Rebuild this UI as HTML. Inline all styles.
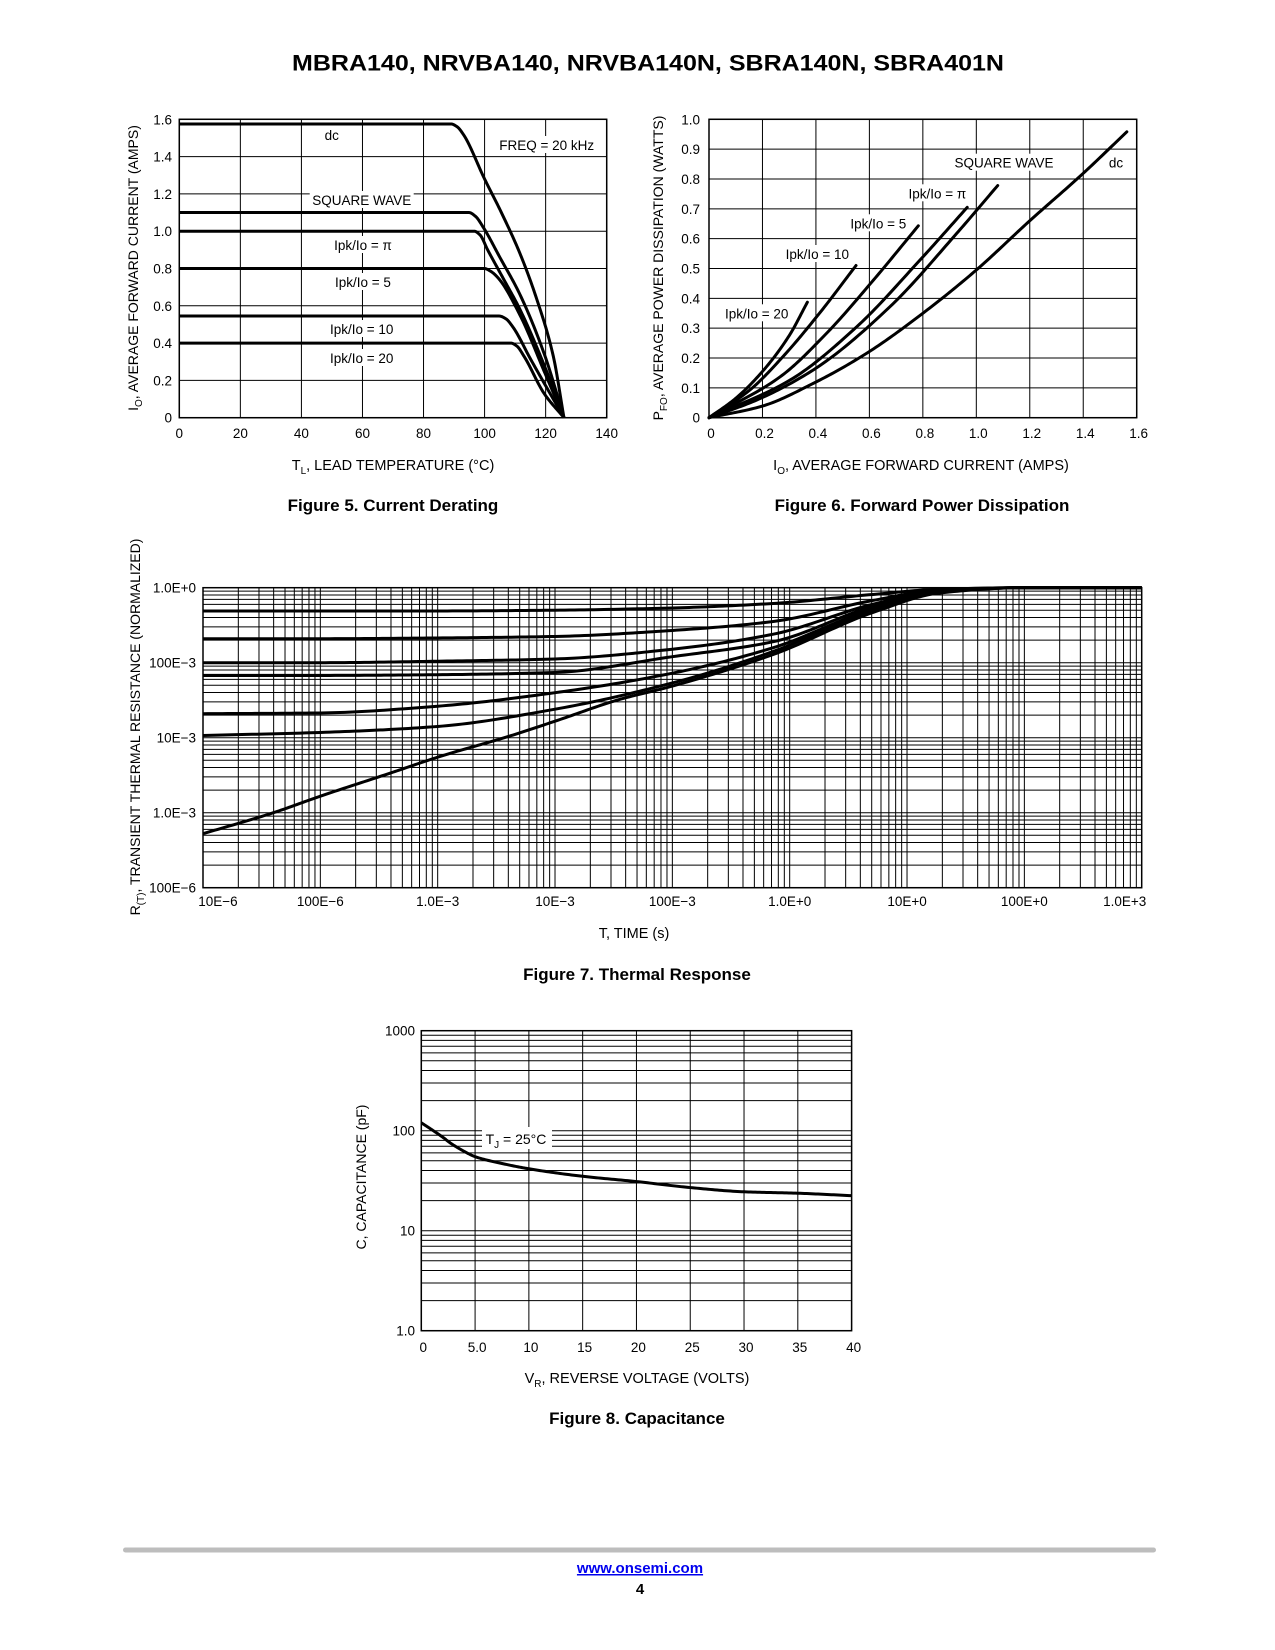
<!DOCTYPE html>
<html><head><meta charset="utf-8"><title>MBRA140 characteristics page 4</title>
<style>
html,body{margin:0;padding:0;background:#fff;}
svg{display:block;font-family:"Liberation Sans",Arial,sans-serif;}
</style></head>
<body>
<svg id="page" width="1275" height="1650" viewBox="0 0 1275 1650" xmlns="http://www.w3.org/2000/svg">
<rect width="1275" height="1650" fill="#fff"/>
<text x="648" y="70.5" text-anchor="middle" font-size="22" font-weight="bold" textLength="712" lengthAdjust="spacingAndGlyphs">MBRA140, NRVBA140, NRVBA140N, SBRA140N, SBRA401N</text>
<g id="fig5"></g>
<g id="fig6"></g>
<g id="fig7"></g>
<g id="fig8"></g>
<text x="393" y="511" text-anchor="middle" font-size="17" font-weight="bold">Figure 5. Current Derating</text>
<text x="922" y="511" text-anchor="middle" font-size="17" font-weight="bold">Figure 6. Forward Power Dissipation</text>
<text x="637" y="980" text-anchor="middle" font-size="17" font-weight="bold">Figure 7. Thermal Response</text>
<text x="637" y="1424" text-anchor="middle" font-size="17" font-weight="bold">Figure 8. Capacitance</text>
<rect x="123" y="1547.5" width="1033" height="5" rx="2.5" fill="#bdbdbd"/>
<a><text x="640" y="1573" text-anchor="middle" font-size="15" font-weight="bold" fill="#0000ee" text-decoration="underline">www.onsemi.com</text></a>
<text x="640" y="1594" text-anchor="middle" font-size="15" font-weight="bold">4</text>
</svg>
<script>
// ---------- Figure 5 data ----------
const f5XTicks = [0,20,40,60,80,100,120,140];
const f5YTicks = [0,0.2,0.4,0.6,0.8,1.0,1.2,1.4,1.6];
const f5YTickLabels = ["0","0.2","0.4","0.6","0.8","1.0","1.2","1.4","1.6"];
const f5DcT = [0,89,91,93,100,105.5,111.6,117,122.5,126];
const f5DcI = [1.575,1.575,1.56,1.52,1.28,1.1,0.88,0.64,0.33,0];
const f5SqT = [0,94.9,97,99.6,105,111.6,119.8,126];
const f5SqI = [1.1,1.1,1.08,1.02,0.86,0.66,0.33,0];
const f5PiT = [0,96.6,98.5,101,106,111.6,119.8,126];
const f5PiI = [1.0,1.0,0.98,0.9,0.75,0.58,0.27,0];
const f5P5T = [0,99.9,102,104.4,111.6,119.8,126];
const f5P5I = [0.8,0.8,0.785,0.75,0.55,0.238,0];
const f5P10T = [0,104.8,107,109.2,115.2,126];
const f5P10I = [0.545,0.545,0.53,0.488,0.31,0];
const f5P20T = [0,108.6,110.5,113,119.5,126];
const f5P20I = [0.4,0.4,0.385,0.327,0.13,0];

// ---------- Figure 6 data ----------
const f6XTicks = [0,0.2,0.4,0.6,0.8,1.0,1.2,1.4,1.6];
const f6XTickLabels = ["0","0.2","0.4","0.6","0.8","1.0","1.2","1.4","1.6"];
const f6YTicks = [0,0.1,0.2,0.3,0.4,0.5,0.6,0.7,0.8,0.9,1.0];
const f6YTickLabels = ["0","0.1","0.2","0.3","0.4","0.5","0.6","0.7","0.8","0.9","1.0"];
const f6P20I = [0,0.1,0.2,0.3,0.368];
const f6P20P = [0,0.065,0.155,0.275,0.387];
const f6P10I = [0,0.153,0.278,0.415,0.55];
const f6P10P = [0,0.093,0.206,0.352,0.51];
const f6P5I = [0,0.266,0.44,0.615,0.783];
const f6P5P = [0,0.137,0.283,0.461,0.643];
const f6PiI = [0,0.303,0.553,0.789,0.966];
const f6PiP = [0,0.126,0.305,0.528,0.705];
const f6SqI = [0,0.178,0.39,0.677,0.927,1.08];
const f6SqP = [0,0.059,0.16,0.372,0.618,0.778];
const f6DcI = [0,0.2,0.39,0.59,0.8,1.0,1.2,1.4,1.563];
const f6DcP = [0,0.039,0.115,0.216,0.35,0.495,0.66,0.819,0.958];

// ---------- Figure 7 data (log10 time, log10 R) ----------
const f7XTickLabels = ["10E\u22126","100E\u22126","1.0E\u22123","10E\u22123","100E\u22123","1.0E+0","10E+0","100E+0","1.0E+3"];
const f7YTickLabels = ["100E\u22126","1.0E\u22123","10E\u22123","100E\u22123","1.0E+0"];
const f7LogT = [-5,-4,-3,-2,-1,-0.14,0.71,1.28,2,3.1];
const f7D50 = [-0.31,-0.31,-0.31,-0.30,-0.27,-0.21,-0.09,-0.02,0,0];
const f7D20 = [-0.68,-0.68,-0.67,-0.65,-0.57,-0.45,-0.17,-0.03,0,0];
const f7D10 = [-1.0,-1.0,-0.98,-0.95,-0.82,-0.62,-0.22,-0.04,0,0];
const f7D05 = [-1.17,-1.17,-1.16,-1.13,-0.92,-0.72,-0.25,-0.05,0,0];
const f7D02 = [-1.68,-1.67,-1.58,-1.4,-1.14,-0.8,-0.28,-0.05,0,0];
const f7D01 = [-1.97,-1.93,-1.85,-1.62,-1.27,-0.85,-0.3,-0.06,0,0];
const f7SingleT = [-5,-4.4,-4,-3.4,-2.98,-2.39,-2,-1.45,-1.02,-0.14,0.71,1.28,2,3.1];
const f7SingleR = [-3.28,-3.0,-2.78,-2.47,-2.25,-1.98,-1.78,-1.49,-1.32,-0.89,-0.33,-0.07,0,0];

// ---------- Figure 8 data ----------
const f8XTicks = [0,5,10,15,20,25,30,35,40];
const f8XTickLabels = ["0","5.0","10","15","20","25","30","35","40"];
const f8YTickLabels = ["1.0","10","100","1000"];
const f8V = [0,1,2,2.73,4,5,7.5,10,15,20,25,30,35,40];
const f8C = [120,102,86,75,62,55,47,41.6,35,31,27,24.5,23.7,22.4];

const NS = "http://www.w3.org/2000/svg";
function mk(parent, tag, attrs, txt){
  const e = document.createElementNS(NS, tag);
  for (const k in attrs) e.setAttribute(k, attrs[k]);
  if (txt !== undefined) e.textContent = txt;
  parent.appendChild(e);
  return e;
}
function smoothD(xs, ys, fx, fy){
  const n = xs.length;
  const dx=[], m=[], s=[];
  for (let i=0;i<n-1;i++){ dx[i]=xs[i+1]-xs[i]; s[i]=(ys[i+1]-ys[i])/dx[i]; }
  m[0]=s[0]; m[n-1]=s[n-2];
  for (let i=1;i<n-1;i++){
    if (s[i-1]*s[i]<=0) m[i]=0;
    else { const w1=2*dx[i]+dx[i-1], w2=dx[i]+2*dx[i-1]; m[i]=(w1+w2)/(w1/s[i-1]+w2/s[i]); }
  }
  let d = "M"+fx(xs[0]).toFixed(2)+","+fy(ys[0]).toFixed(2);
  for (let i=0;i<n-1;i++){
    const N=24;
    for (let k=1;k<=N;k++){
      const t=k/N, h=dx[i];
      const h00=2*t*t*t-3*t*t+1, h10=t*t*t-2*t*t+t, h01=-2*t*t*t+3*t*t, h11=t*t*t-t*t;
      const yv=h00*ys[i]+h10*h*m[i]+h01*ys[i+1]+h11*h*m[i+1];
      const xv=xs[i]+t*h;
      d += "L"+fx(xv).toFixed(2)+","+fy(yv).toFixed(2);
    }
  }
  return d;
}
function label(g, x, y, txt, size, anchor){
  return mk(g, "text", {x:x, y:y, "font-size":size||13, "text-anchor":anchor||"middle"}, txt);
}
function boxLabel(g, cx, cy, txt, w){
  mk(g, "rect", {x:cx-w/2, y:cy-9, width:w, height:17, fill:"#fff"});
  return label(g, cx, cy+5, txt, 13.5);
}

// ===== Figure 5 =====
(function(){
  const g = document.getElementById("fig5");
  const L=179.3, R=606.7, T=119.3, B=417.7;
  const x = v => L + (v/140)*(R-L);
  const y = v => B - (v/1.6)*(B-T);
  f5XTicks.forEach(v=>{
    const ln = mk(g,"line",{x1:x(v),x2:x(v),y1:T,y2:B,stroke:"#000","stroke-width":1});
    
    
    const t = label(g, x(v), 438, String(v), 13.5);
    
    
  });
  f5YTicks.forEach((v,i)=>{
    const ln = mk(g,"line",{x1:L,x2:R,y1:y(v),y2:y(v),stroke:"#000","stroke-width":1});
    
    
    const t = label(g, 172, y(v)+5, f5YTickLabels[i], 13.5, "end");
    
    
  });
  const fr = mk(g,"rect",{x:L,y:T,width:R-L,height:B-T,fill:"none",stroke:"#000","stroke-width":1.5});
  
  
  const bx = boxLabel(g, 546.7, 145, "FREQ = 20 kHz", 106);
  
  
  const sq = boxLabel(g, 361.7, 200, "SQUARE WAVE", 104);
  
  
  const series = [[f5DcT,f5DcI,"dc-curve"],[f5SqT,f5SqI,"square-wave-curve"],[f5PiT,f5PiI,"ipk-pi-curve"],[f5P5T,f5P5I,"ipk-5-curve"],[f5P10T,f5P10I,"ipk-10-curve"],[f5P20T,f5P20I,"ipk-20-curve"]];
  series.forEach(s=>{
    const p = mk(g,"path",{d:smoothD(s[0],s[1],x,y),fill:"none",stroke:"#000","stroke-width":3,"stroke-linejoin":"round"});
    
    
  });
  const labs = [[331.7,135,"dc",20],[363,245,"Ipk/Io = \u03C0",70],[363,282,"Ipk/Io = 5",66],[361.7,329,"Ipk/Io = 10",74],[361.7,358,"Ipk/Io = 20",74]];
  labs.forEach(l=>{
    const t = boxLabel(g, l[0], l[1], l[2], l[3]);
    
    
  });
  const xt = mk(g,"text",{x:393,y:470,"font-size":14.5,"text-anchor":"middle"});
  
  
  xt.innerHTML = 'T<tspan font-size="10" dy="4">L</tspan><tspan dy="-4">, LEAD TEMPERATURE (°C)</tspan>';
  const yt = mk(g,"text",{x:0,y:0,"font-size":14,"text-anchor":"middle",transform:"translate(138,268) rotate(-90)"});
  
  
  yt.innerHTML = 'I<tspan font-size="10" dy="4">O</tspan><tspan dy="-4">, AVERAGE FORWARD CURRENT (AMPS)</tspan>';
})();

// ===== Figure 6 =====
(function(){
  const g = document.getElementById("fig6");
  const L=709, R=1136.7, T=119.3, B=417.7;
  const x = v => L + (v/1.6)*(R-L);
  const y = v => B - (v/1.0)*(B-T);
  f6XTicks.forEach((v,i)=>{
    const ln = mk(g,"line",{x1:x(v),x2:x(v),y1:T,y2:B,stroke:"#000","stroke-width":1});
    
    
    const t = label(g, x(v)+2, 438, f6XTickLabels[i], 13.5);
    
    
  });
  f6YTicks.forEach((v,i)=>{
    const ln = mk(g,"line",{x1:L,x2:R,y1:y(v),y2:y(v),stroke:"#000","stroke-width":1});
    
    
    const t = label(g, 700, y(v)+5, f6YTickLabels[i], 13.5, "end");
    
    
  });
  const fr = mk(g,"rect",{x:L,y:T,width:R-L,height:B-T,fill:"none",stroke:"#000","stroke-width":1.5});
  
  
  const labs = [[1004,162.7,"SQUARE WAVE",104],[1116,162.7,"dc",22],[937.3,193.3,"Ipk/Io = \u03C0",70],[878.3,223.3,"Ipk/Io = 5",66],[817.3,254,"Ipk/Io = 10",74],[756.7,313.3,"Ipk/Io = 20",74]];
  labs.forEach(l=>{
    const t = boxLabel(g, l[0], l[1], l[2], l[3]);
    
    
  });
  const series = [[f6P20I,f6P20P,"ipk-20-curve"],[f6P10I,f6P10P,"ipk-10-curve"],[f6P5I,f6P5P,"ipk-5-curve"],[f6PiI,f6PiP,"ipk-pi-curve"],[f6SqI,f6SqP,"square-wave-curve"],[f6DcI,f6DcP,"dc-curve"]];
  series.forEach(s=>{
    const p = mk(g,"path",{d:smoothD(s[0],s[1],x,y),fill:"none",stroke:"#000","stroke-width":3,"stroke-linecap":"round","stroke-linejoin":"round"});
    
    
  });
  const xt = mk(g,"text",{x:921,y:470,"font-size":14.5,"text-anchor":"middle"});
  
  
  xt.innerHTML = 'I<tspan font-size="10" dy="4">O</tspan><tspan dy="-4">, AVERAGE FORWARD CURRENT (AMPS)</tspan>';
  const yt = mk(g,"text",{x:0,y:0,"font-size":14,"text-anchor":"middle",transform:"translate(663,268) rotate(-90)"});
  
  
  yt.innerHTML = 'P<tspan font-size="10" dy="4">FO</tspan><tspan dy="-4">, AVERAGE POWER DISSIPATION (WATTS)</tspan>';
})();

// ===== Figure 7 =====
(function(){
  const g = document.getElementById("fig7");
  const L=203, R=1141.7, T=587.7, B=887.7;
  const x = lt => L + (lt+5)/8*(R-L);
  const y = lr => T - lr/4*(B-T);
  for (let dec=-5; dec<3; dec++){
    for (let m=1; m<10; m++){
      const lt = dec + Math.log10(m);
      const ln = mk(g,"line",{x1:x(lt),x2:x(lt),y1:T,y2:B,stroke:"#000","stroke-width":1});
      
      
    }
  }
  for (let dec=-4; dec<0; dec++){
    for (let m=1; m<10; m++){
      const lr = dec + Math.log10(m);
      const ln = mk(g,"line",{x1:L,x2:R,y1:y(lr),y2:y(lr),stroke:"#000","stroke-width":1});
      
      
    }
  }
  const fr = mk(g,"rect",{x:L,y:T,width:R-L,height:B-T,fill:"none",stroke:"#000","stroke-width":1.5});
  
  
  f7XTickLabels.forEach((s,i)=>{
    let cx = x(-5+i);
    if (i===0) cx += 15;
    if (i===8) cx -= 17;
    const t = label(g, cx, 906, s, 13.5);
    
    
  });
  f7YTickLabels.forEach((s,i)=>{
    const t = label(g, 196, y(-4+i)+5, s, 13.5, "end");
    
    
  });
  const series = [[f7D50,"duty-0.5-curve"],[f7D20,"duty-0.2-curve"],[f7D10,"duty-0.1-curve"],[f7D05,"duty-0.05-curve"],[f7D02,"duty-0.02-curve"],[f7D01,"duty-0.01-curve"]];
  const xr = lt => Math.min(x(lt), R);
  series.forEach(s=>{
    const p = mk(g,"path",{d:smoothD(f7LogT,s[0],xr,y),fill:"none",stroke:"#000","stroke-width":3});
    
    
  });
  const sp = mk(g,"path",{d:smoothD(f7SingleT,f7SingleR,xr,y),fill:"none",stroke:"#000","stroke-width":3});
  
  
  const xt = label(g, 634, 938, "T, TIME (s)", 14.5);
  
  
  const yt = mk(g,"text",{x:0,y:0,"font-size":14,"text-anchor":"middle",transform:"translate(140,727) rotate(-90)"});
  
  
  yt.innerHTML = 'R<tspan font-size="10" dy="4">(T)</tspan><tspan dy="-4">, TRANSIENT THERMAL RESISTANCE (NORMALIZED)</tspan>';
})();

// ===== Figure 8 =====
(function(){
  const g = document.getElementById("fig8");
  const L=421.3, R=851.6, T=1030.7, B=1330.7;
  const x = v => L + v/40*(R-L);
  const y = c => B - Math.log10(c)/3*(B-T);
  for (let dec=0; dec<3; dec++){
    for (let m=1; m<10; m++){
      const c = Math.pow(10,dec)*m;
      const ln = mk(g,"line",{x1:L,x2:R,y1:y(c),y2:y(c),stroke:"#000","stroke-width":1});
      
      
    }
  }
  f8XTicks.forEach((v,i)=>{
    const ln = mk(g,"line",{x1:x(v),x2:x(v),y1:T,y2:B,stroke:"#000","stroke-width":1});
    
    
    const t = label(g, x(v)+2, 1352, f8XTickLabels[i], 13.5);
    
    
  });
  f8YTickLabels.forEach((s,i)=>{
    const t = label(g, 415, y(Math.pow(10,i))+5, s, 13.5, "end");
    
    
  });
  const fr = mk(g,"rect",{x:L,y:T,width:R-L,height:B-T,fill:"none",stroke:"#000","stroke-width":1.5});
  
  
  mk(g,"rect",{x:482,y:1127,width:70,height:22,fill:"#fff"});
  const tj = mk(g,"text",{x:516,y:1144,"font-size":14,"text-anchor":"middle"});
  
  
  tj.innerHTML = 'T<tspan font-size="10" dy="4">J</tspan><tspan dy="-4"> = 25°C</tspan>';
  const p = mk(g,"path",{d:smoothD(f8V,f8C.map(Math.log10),x,c=>B - c/3*(B-T)),fill:"none",stroke:"#000","stroke-width":3});
  
  
  const xt = mk(g,"text",{x:637,y:1383,"font-size":14.5,"text-anchor":"middle"});
  
  
  xt.innerHTML = 'V<tspan font-size="10" dy="4">R</tspan><tspan dy="-4">, REVERSE VOLTAGE (VOLTS)</tspan>';
  const yt = mk(g,"text",{x:0,y:0,"font-size":14,"text-anchor":"middle",transform:"translate(366,1177) rotate(-90)"});
  
  
  yt.textContent = "C, CAPACITANCE (pF)";
})();
</script>
</body></html>
